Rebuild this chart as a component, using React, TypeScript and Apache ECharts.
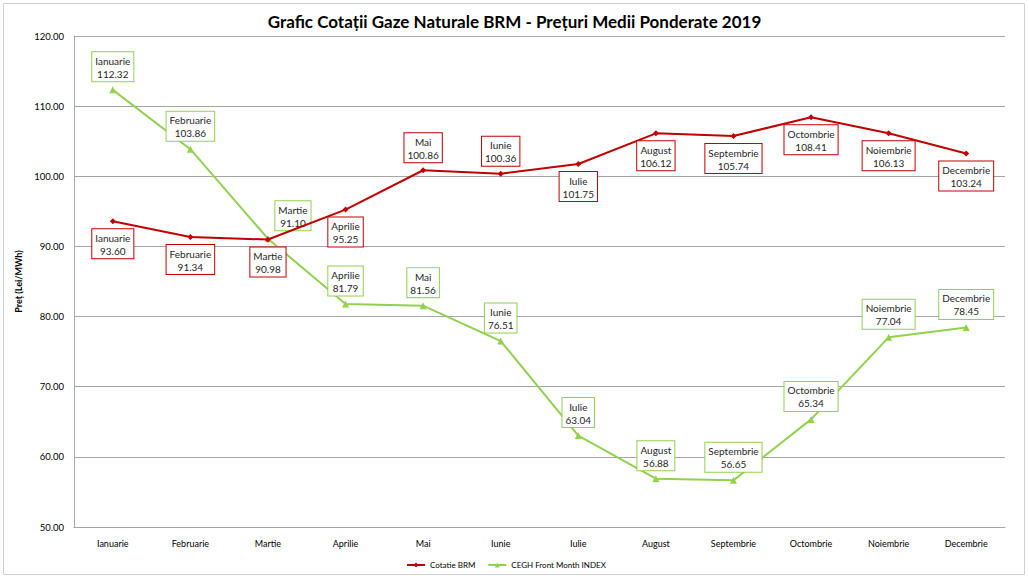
import React, { useEffect, useRef } from 'react';
import * as echarts from 'echarts';

const months = [
  'Ianuarie', 'Februarie', 'Martie', 'Aprilie', 'Mai', 'Iunie',
  'Iulie', 'August', 'Septembrie', 'Octombrie', 'Noiembrie', 'Decembrie'
];
const brmValues = [93.6, 91.34, 90.98, 95.25, 100.86, 100.36, 101.75, 106.12, 105.74, 108.41, 106.13, 103.24];
const ceghValues = [112.32, 103.86, 91.1, 81.79, 81.56, 76.51, 63.04, 56.88, 56.65, 65.34, 77.04, 78.45];
// luni la care eticheta BRM stă deasupra punctului
const brmLabelsAbove = ['Mai', 'Iunie'];

const FONT = 'Lato, "Open Sans", sans-serif';
const RED = '#c00000';
const GREEN = '#92d050';

const labelBox = (color: string) => ({
  show: true,
  formatter: (p: any) => `${p.name}\n${Number(p.value).toFixed(2)}`,
  fontFamily: FONT,
  fontSize: 10,
  lineHeight: 13,
  color: '#262626',
  backgroundColor: '#fff',
  borderColor: color,
  borderWidth: 1,
  padding: [2, 3, 1, 3],
  distance: 5
});

const App: React.FC = () => {
  const chartRef = useRef<HTMLDivElement>(null);

  useEffect(() => {
    document.body.style.margin = '0';
    if (!chartRef.current) return;
    const chart = echarts.init(chartRef.current, undefined, { renderer: 'svg' });

    const option: echarts.EChartsOption = {
      animation: false,
      backgroundColor: '#fff',
      textStyle: { fontFamily: FONT },
      title: {
        text: 'Grafic Cotații Gaze Naturale BRM - Prețuri Medii Ponderate 2019',
        left: 'center',
        top: 8,
        textStyle: { fontFamily: FONT, fontSize: 17, fontWeight: 'bold', color: '#000' }
      },
      graphic: [
        {
          type: 'rect',
          shape: { x: 3.5, y: 3.5, width: 1021, height: 571 },
          style: { fill: 'none', stroke: '#d0d0d0', lineWidth: 1 },
          silent: true
        }
      ],
      legend: {
        left: 401,
        top: 556,
        itemWidth: 18,
        itemHeight: 6,
        itemGap: 12,
        textStyle: { fontFamily: FONT, fontSize: 8, color: '#000' },
        data: ['Cotatie BRM', 'CEGH Front Month INDEX']
      },
      grid: { left: 74, right: 24, top: 36, bottom: 51 },
      xAxis: {
        type: 'category',
        data: months,
        boundaryGap: true,
        axisLine: { lineStyle: { color: '#a6a6a6' } },
        axisTick: { show: false },
        axisLabel: { fontFamily: FONT, fontSize: 9, color: '#000', margin: 12 }
      },
      yAxis: {
        type: 'value',
        min: 50,
        max: 120,
        interval: 10,
        name: 'Preț (Lei/MWh)',
        nameLocation: 'middle',
        nameGap: 50,
        nameTextStyle: { fontFamily: FONT, fontSize: 9, fontWeight: 'bold', color: '#000' },
        axisLine: { show: true, lineStyle: { color: '#a6a6a6' } },
        axisTick: { show: false },
        splitLine: { lineStyle: { color: '#a6a6a6' } },
        axisLabel: {
          fontFamily: FONT,
          fontSize: 9.5,
          color: '#000',
          margin: 10,
          formatter: (v: number) => v.toFixed(2)
        }
      },
      series: [
        {
          name: 'Cotatie BRM',
          type: 'line',
          symbol: 'diamond',
          symbolSize: 6,
          color: RED,
          lineStyle: { width: 2, color: RED },
          itemStyle: { color: RED },
          label: { ...labelBox(RED), position: 'bottom' },
          data: brmValues.map((v, i) => ({
            value: v,
            label: brmLabelsAbove.includes(months[i]) ? { position: 'top' } : undefined
          })),
          z: 3
        },
        {
          name: 'CEGH Front Month INDEX',
          type: 'line',
          symbol: 'triangle',
          symbolSize: 7,
          color: GREEN,
          lineStyle: { width: 2, color: GREEN },
          itemStyle: { color: GREEN },
          label: { ...labelBox(GREEN), position: 'top' },
          data: ceghValues.map((v, i) => ({
            value: v,
            label: months[i] === 'Martie' ? { offset: [25, 0] } : undefined
          })),
          z: 2
        }
      ]
    };

    chart.setOption(option);
    return () => chart.dispose();
  }, []);

  return <div ref={chartRef} style={{ width: 1029, height: 578 }} />;
};

export default App;
